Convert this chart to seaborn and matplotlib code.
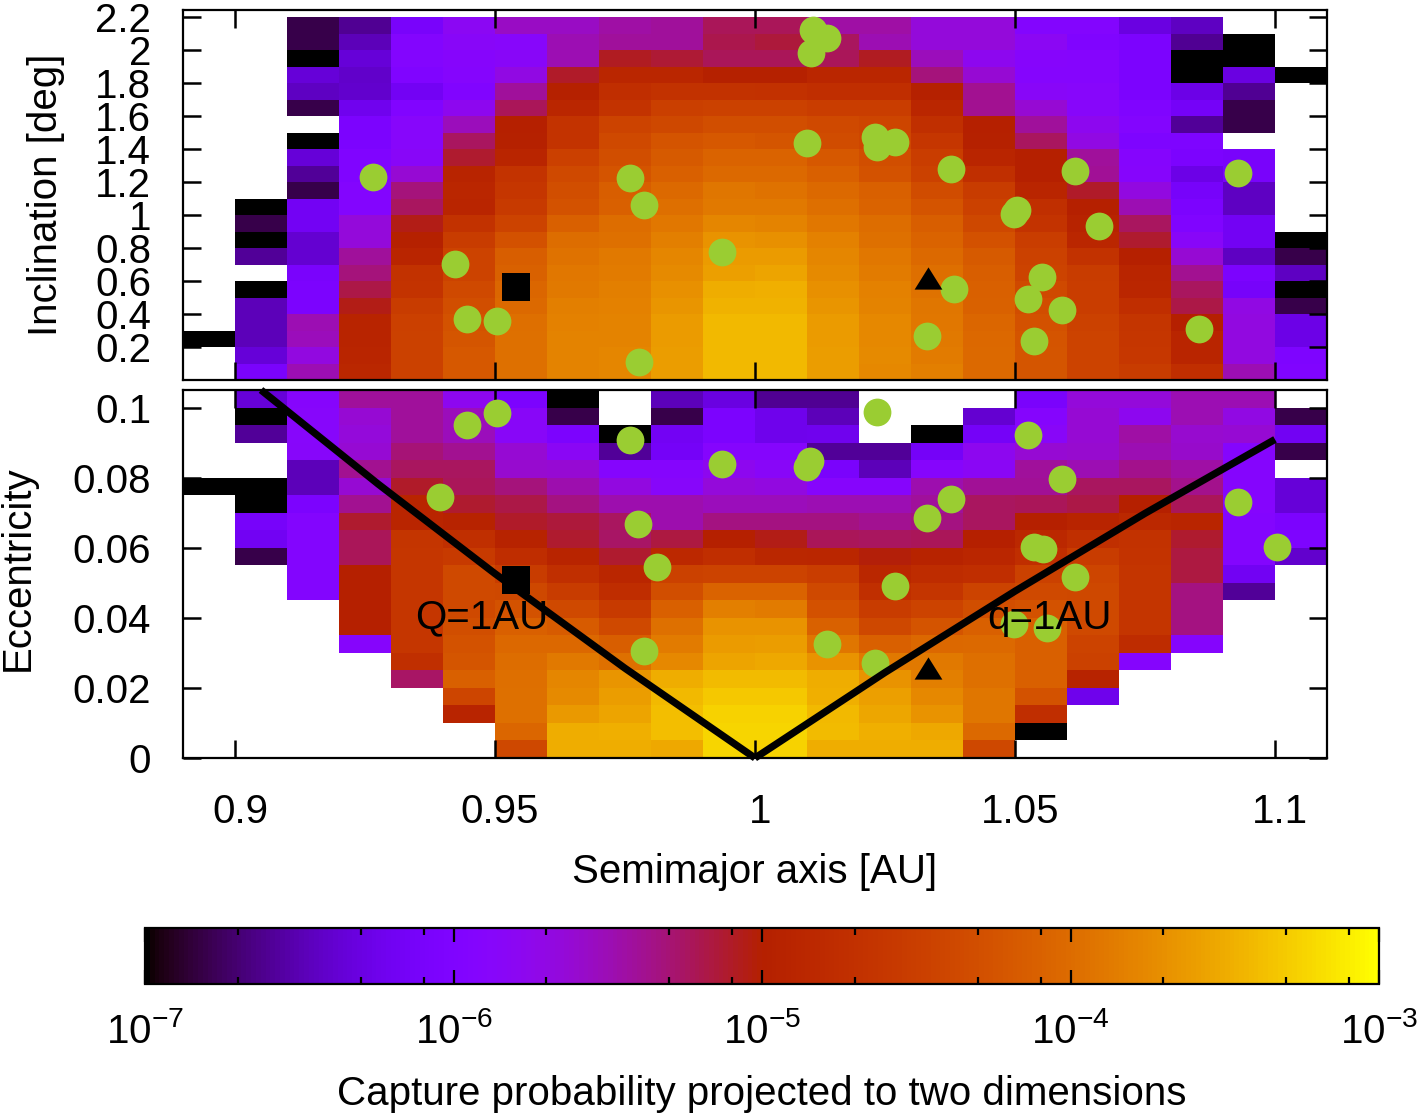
import numpy as np
import pandas as pd
import matplotlib
matplotlib.use("Agg")
import matplotlib.pyplot as plt
from matplotlib.colors import LogNorm
from matplotlib.ticker import LogLocator
from matplotlib.transforms import ScaledTranslation
import seaborn as sns

sns.set_style("white")
plt.rcParams["font.family"] = ["Liberation Sans", "DejaVu Sans"]
plt.rcParams["mathtext.fontset"] = "custom"
plt.rcParams["mathtext.rm"] = "Liberation Sans"
plt.rcParams["mathtext.default"] = "regular"
plt.rcParams["axes.unicode_minus"] = False
plt.rcParams["axes.axisbelow"] = False
plt.rcParams["text.color"] = "black"
plt.rcParams["axes.labelcolor"] = "black"
plt.rcParams["xtick.labelcolor"] = "black"
plt.rcParams["ytick.labelcolor"] = "black"

n = np.nan

# log10 of the capture probability, one row per bin, highest bin first
# columns are the semimajor axis bins 0.89-0.90 ... 1.10-1.11
inc_rows = [
    [n, n, -6.8, -6.6, -6.1, -5.8, -5.55, -5.55, -5.45, -5.42, -5.22, -5.22, -5.45, -5.45, -5.65, -5.65, -5.95, -5.95, -6.3, -6.45, n, n],
    [n, n, -6.8, -6.48, -5.95, -5.85, -5.88, -5.5, -5.42, -5.42, -5.2, -5.15, -5.25, -5.5, -5.65, -5.65, -5.8, -6.0, -6.05, -6.6, -7, n],
    [n, n, -7, -6.35, -5.95, -5.9, -5.85, -5.5, -5.08, -5.14, -5.22, -5.22, -5.22, -5.08, -5.52, -5.78, -5.9, -5.92, -6.05, -7, -7, n],
    [n, n, -6.35, -6.42, -6.0, -5.92, -5.7, -5.1, -4.88, -4.88, -4.98, -4.98, -4.88, -4.88, -5.32, -5.62, -5.92, -5.92, -6.05, -7, -6.3, -7],
    [n, n, -6.45, -6.4, -6.18, -5.98, -5.42, -4.98, -4.75, -4.68, -4.68, -4.7, -4.75, -4.75, -4.98, -5.38, -5.85, -5.88, -6.05, -6.28, -6.6, n],
    [n, n, -6.8, -6.22, -5.98, -5.78, -5.22, -4.88, -4.66, -4.5, -4.46, -4.46, -4.52, -4.52, -4.88, -5.38, -5.62, -5.86, -6.0, -6.15, -6.8, n],
    [n, n, n, -6.05, -5.88, -5.52, -5.0, -4.66, -4.44, -4.38, -4.3, -4.3, -4.36, -4.42, -4.72, -5.0, -5.42, -5.78, -5.95, -6.58, -6.8, n],
    [n, n, -7, -6.05, -5.88, -5.25, -4.98, -4.66, -4.36, -4.25, -4.2, -4.22, -4.34, -4.4, -4.62, -4.98, -5.25, -5.7, -6.02, -6.02, n, n],
    [n, n, -6.35, -6.0, -5.85, -5.12, -4.9, -4.48, -4.3, -4.18, -4.08, -4.08, -4.2, -4.3, -4.52, -4.9, -5.0, -5.42, -5.92, -6.05, -6.1, n],
    [n, n, -6.58, -6.0, -5.62, -4.92, -4.66, -4.36, -4.25, -4.12, -4.02, -4.02, -4.12, -4.26, -4.46, -4.72, -5.0, -5.4, -5.9, -6.28, -6.1, n],
    [n, n, -6.8, -5.95, -5.32, -4.88, -4.62, -4.3, -4.14, -4.02, -3.92, -3.95, -4.02, -4.12, -4.34, -4.54, -4.9, -5.1, -5.68, -6.12, -6.45, n],
    [n, -7, -6.18, -5.95, -5.24, -4.9, -4.55, -4.26, -4.12, -3.98, -3.88, -3.88, -3.98, -4.08, -4.24, -4.46, -4.72, -5.0, -5.5, -6.05, -6.45, n],
    [n, -6.8, -6.18, -5.65, -5.05, -4.68, -4.45, -4.12, -4.0, -3.9, -3.78, -3.8, -3.9, -4.0, -4.14, -4.38, -4.66, -4.95, -5.25, -6.0, -6.18, n],
    [n, -7, -6.38, -5.65, -4.98, -4.54, -4.28, -4.0, -3.96, -3.84, -3.68, -3.7, -3.82, -3.96, -4.08, -4.28, -4.52, -4.88, -5.12, -5.85, -6.18, -7],
    [n, -6.58, -6.38, -5.42, -4.9, -4.44, -4.14, -3.94, -3.88, -3.78, -3.62, -3.62, -3.78, -3.9, -4.02, -4.18, -4.46, -4.68, -5.0, -5.62, -6.45, -6.8],
    [n, n, -6.08, -5.32, -4.68, -4.44, -4.1, -3.9, -3.86, -3.74, -3.58, -3.56, -3.74, -3.86, -3.98, -4.14, -4.44, -4.54, -4.9, -5.38, -6.05, -6.45],
    [n, -7, -6.05, -5.18, -4.66, -4.36, -4.05, -3.88, -3.84, -3.7, -3.5, -3.48, -3.7, -3.82, -3.94, -4.12, -4.36, -4.52, -4.88, -5.25, -6.12, -7],
    [n, -6.48, -6.05, -5.05, -4.54, -4.3, -4.02, -3.84, -3.82, -3.66, -3.46, -3.46, -3.66, -3.8, -3.92, -4.1, -4.32, -4.52, -4.74, -5.18, -5.7, -6.8],
    [n, -6.48, -5.5, -4.92, -4.48, -4.26, -3.98, -3.82, -3.8, -3.62, -3.42, -3.42, -3.62, -3.76, -3.9, -4.06, -4.28, -4.46, -4.64, -5.0, -5.68, -6.28],
    [-7, -6.48, -5.52, -4.92, -4.46, -4.22, -3.96, -3.8, -3.8, -3.62, -3.42, -3.42, -3.62, -3.76, -3.88, -4.04, -4.24, -4.44, -4.62, -4.9, -5.68, -6.28],
    [n, -6.35, -5.68, -4.9, -4.46, -4.2, -3.96, -3.8, -3.78, -3.6, -3.42, -3.42, -3.6, -3.74, -3.86, -4.02, -4.22, -4.44, -4.6, -4.9, -5.68, -6.02],
    [n, -6.08, -5.5, -4.86, -4.46, -4.2, -3.96, -3.8, -3.78, -3.6, -3.42, -3.42, -3.6, -3.76, -3.84, -4.02, -4.22, -4.44, -4.54, -4.74, -5.5, -6.0],
]

ecc_rows = [
    [n, -6.35, -5.9, -5.42, -5.42, -5.78, -6.05, -7, n, -6.48, -6.3, -6.6, -6.6, n, n, n, -6.08, -5.65, -5.65, -5.5, -5.5, n],
    [n, -7, -5.88, -5.62, -5.42, -5.52, -5.85, -6.8, n, -6.8, -6.05, -6.25, -6.48, n, n, -6.38, -5.92, -5.62, -5.78, -5.5, -5.7, -6.8],
    [n, -6.58, -5.88, -5.65, -5.42, -5.52, -5.85, -6.05, -7, -6.18, -6.05, -6.25, -6.22, n, -7, -6.15, -5.85, -5.62, -5.45, -5.6, -5.62, -6.2],
    [n, n, -5.86, -5.62, -5.3, -5.38, -5.62, -5.82, -6.58, -6.15, -5.92, -5.92, -6.58, -6.58, -6.15, -5.78, -5.62, -5.6, -5.5, -5.58, -5.92, -6.8],
    [n, n, -6.48, -5.38, -5.25, -5.25, -5.6, -5.62, -5.92, -5.92, -5.78, -5.85, -6.08, -6.48, -5.9, -5.82, -5.42, -5.5, -5.36, -5.45, -5.92, n],
    [-7, -7, -6.48, -5.62, -5.1, -5.22, -5.32, -5.48, -5.68, -5.86, -5.65, -5.68, -5.9, -5.9, -5.48, -5.4, -5.4, -5.25, -5.24, -5.36, -5.92, -6.35],
    [n, -7, -6.05, -5.38, -4.9, -5.12, -5.18, -5.34, -5.48, -5.48, -5.52, -5.52, -5.5, -5.5, -5.42, -5.25, -5.22, -5.18, -5.0, -5.22, -5.92, -6.35],
    [n, -6.12, -5.95, -5.12, -4.9, -4.94, -5.1, -5.15, -5.25, -5.48, -5.34, -5.34, -5.34, -5.38, -5.34, -5.24, -5.0, -4.92, -4.85, -4.9, -5.95, -6.05],
    [n, -6.2, -5.95, -5.22, -4.64, -4.72, -4.95, -5.12, -5.26, -5.16, -5.0, -5.06, -5.22, -5.24, -5.22, -5.0, -4.85, -4.72, -4.68, -5.12, -5.95, -6.02],
    [n, -6.8, -5.95, -5.22, -4.62, -4.56, -4.76, -4.92, -5.12, -4.84, -4.74, -4.86, -4.88, -5.02, -4.94, -4.88, -4.74, -4.54, -4.66, -5.16, -5.95, -6.4],
    [n, n, -5.95, -5.0, -4.62, -4.36, -4.54, -4.72, -4.88, -4.46, -4.44, -4.44, -4.52, -4.86, -4.78, -4.74, -4.46, -4.42, -4.64, -5.16, -6.2, n],
    [n, n, -5.95, -5.0, -4.62, -4.36, -4.38, -4.54, -4.76, -4.3, -4.08, -4.08, -4.36, -4.72, -4.64, -4.44, -4.36, -4.38, -4.64, -5.34, -6.58, n],
    [n, n, n, -5.0, -4.62, -4.36, -4.26, -4.36, -4.56, -4.12, -3.84, -3.86, -4.28, -4.54, -4.44, -4.3, -4.26, -4.36, -4.64, -5.34, n, n],
    [n, n, n, -5.0, -4.62, -4.3, -4.12, -4.16, -4.36, -3.96, -3.68, -3.68, -4.1, -4.38, -4.24, -4.12, -4.12, -4.36, -4.64, -5.34, n, n],
    [n, n, n, -5.9, -4.62, -4.26, -4.04, -4.04, -4.14, -3.86, -3.62, -3.6, -3.92, -4.12, -4.04, -4.02, -4.12, -4.44, -4.78, -5.92, n, n],
    [n, n, n, n, -4.72, -4.22, -4.0, -3.88, -3.96, -3.76, -3.56, -3.52, -3.68, -3.88, -3.88, -3.98, -4.12, -4.46, -5.92, n, n, n],
    [n, n, n, n, -5.26, -4.12, -3.98, -3.78, -3.66, -3.5, -3.4, -3.4, -3.5, -3.68, -3.84, -3.96, -4.12, -4.95, n, n, n, n],
    [n, n, n, n, n, -4.42, -3.96, -3.74, -3.6, -3.42, -3.32, -3.32, -3.48, -3.58, -3.76, -3.92, -4.26, -6.25, n, n, n, n],
    [n, n, n, n, n, -4.92, -3.96, -3.64, -3.56, -3.38, -3.26, -3.26, -3.42, -3.54, -3.68, -3.92, -4.74, n, n, n, n, n],
    [n, n, n, n, n, n, -4.06, -3.5, -3.48, -3.38, -3.24, -3.24, -3.4, -3.48, -3.52, -4.02, -7, n, n, n, n, n],
    [n, n, n, n, n, n, -4.38, -3.5, -3.5, -3.52, -3.24, -3.26, -3.5, -3.5, -3.5, -4.38, n, n, n, n, n, n],
]

# asteroids in the inclination panel
top_a = [0.9265, 0.9424, 0.9446, 0.9504, 0.9760, 0.9786, 0.9776, 0.9937, 1.0112, 1.0138,
         1.0108, 1.0100, 1.0231, 1.0235, 1.0269, 1.0377, 1.0616, 1.0929, 1.0503, 1.0498,
         1.0662, 1.0551, 1.0525, 1.0590, 1.0382, 1.0331, 1.0537, 1.0853]
top_inc = [1.231, 0.702, 0.369, 0.357, 1.223, 1.061, 0.111, 0.775, 2.121, 2.077,
           1.986, 1.441, 1.477, 1.411, 1.447, 1.278, 1.266, 1.259, 1.031, 1.005,
           0.932, 0.624, 0.490, 0.424, 0.551, 0.266, 0.236, 0.309]

# asteroids in the eccentricity panel
bot_a = [0.9446, 0.9504, 0.9760, 0.9937, 0.9394, 0.9775, 0.9812, 0.9786, 1.0235, 1.0525,
         1.0106, 1.0100, 1.0590, 1.0377, 1.0331, 1.0929, 1.1004, 1.0537, 1.0554, 1.0616,
         1.0269, 1.0138, 1.0499, 1.0562, 1.0231]
bot_e = [0.0951, 0.0983, 0.0906, 0.0840, 0.0746, 0.0669, 0.0546, 0.0306, 0.0986, 0.0923,
         0.0846, 0.0831, 0.0797, 0.0740, 0.0686, 0.0731, 0.0603, 0.0603, 0.0597, 0.0517,
         0.0491, 0.0326, 0.0383, 0.0371, 0.0271]

# the two special objects
square_a, square_inc, square_e = 0.9540, 0.565, 0.0509
triangle_a, triangle_inc, triangle_e = 1.0333, 0.617, 0.0257

# Q=1AU and q=1AU lines
Q_a = [0.905, 0.9275, 0.95, 0.975, 1.0]
Q_e = [0.105, 0.0782, 0.0526, 0.0256, 0.0]
q_a = [1.0, 1.025, 1.05, 1.075, 1.1]
q_e = [0.0, 0.0244, 0.0476, 0.0698, 0.0909]

a_ticks = [0.9, 0.95, 1.0, 1.05, 1.1]
a_labels = ["0.9", "0.95", "1", "1.05", "1.1"]
inc_ticks = [0.2, 0.4, 0.6, 0.8, 1.0, 1.2, 1.4, 1.6, 1.8, 2.0, 2.2]
inc_labels = ["0.2", "0.4", "0.6", "0.8", "1", "1.2", "1.4", "1.6", "1.8", "2", "2.2"]
ecc_ticks = [0.0, 0.02, 0.04, 0.06, 0.08, 0.1]
ecc_labels = ["0", "0.02", "0.04", "0.06", "0.08", "0.1"]

A_MIN, A_STEP = 0.89, 0.01
INC_STEP, ECC_STEP = 0.1, 0.005
FONT = 29
W, H = 1417, 1118
TRIANGLE = [(-1, -0.8), (1, -0.8), (0, 0.8)]


def ax_rect(left, top, right, bottom):
    return [left / W, 1 - bottom / H, (right - left) / W, (bottom - top) / H]


# heatmaps live in cell coordinates, so overlays are moved into them
def a_pos(a):
    return (np.asarray(a, dtype=float) - A_MIN) / A_STEP


def inc_pos(inc):
    return len(inc_rows) - np.asarray(inc, dtype=float) / INC_STEP


def ecc_pos(e):
    return len(ecc_rows) - np.asarray(e, dtype=float) / ECC_STEP


inc_df = pd.DataFrame(inc_rows)
ecc_df = pd.DataFrame(ecc_rows)
norm = LogNorm(vmin=1e-7, vmax=1e-3)

fig = plt.figure(figsize=(W / 100, H / 100), dpi=100)
ax_top = fig.add_axes(ax_rect(183, 10, 1327, 380))
ax_bot = fig.add_axes(ax_rect(183, 390, 1327, 758))
cax = fig.add_axes(ax_rect(145, 928, 1379, 984))

sns.heatmap(10.0 ** inc_df, ax=ax_top, cmap="gnuplot", norm=norm, xticklabels=False,
            yticklabels=False, cbar_ax=cax, cbar_kws={"orientation": "horizontal"})
sns.heatmap(10.0 ** ecc_df, ax=ax_bot, cmap="gnuplot", norm=norm, xticklabels=False,
            yticklabels=False, cbar=False)

ax_top.set_ylim(len(inc_rows), len(inc_rows) - 2.245 / INC_STEP)
ax_bot.set_ylim(len(ecc_rows), len(ecc_rows) - 0.105 / ECC_STEP)

# green asteroids and the two black markers
sns.scatterplot(x=a_pos(top_a), y=inc_pos(top_inc), ax=ax_top, color="#9acd32", s=400,
                linewidth=0, zorder=3, clip_on=False)
sns.scatterplot(x=a_pos(bot_a), y=ecc_pos(bot_e), ax=ax_bot, color="#9acd32", s=400,
                linewidth=0, zorder=3, clip_on=False)
ax_top.scatter(a_pos(square_a), inc_pos(square_inc), marker="s", s=400, color="black", linewidth=0, zorder=4)
ax_bot.scatter(a_pos(square_a), ecc_pos(square_e), marker="s", s=400, color="black", linewidth=0, zorder=5)
ax_top.scatter(a_pos(triangle_a), inc_pos(triangle_inc), marker=TRIANGLE, s=400, color="black", linewidth=0, zorder=4)
ax_bot.scatter(a_pos(triangle_a), ecc_pos(triangle_e), marker=TRIANGLE, s=400, color="black", linewidth=0, zorder=5)

ax_bot.plot(a_pos(Q_a), ecc_pos(Q_e), color="black", lw=5.2, clip_on=False, zorder=4, solid_capstyle="butt")
ax_bot.plot(a_pos(q_a), ecc_pos(q_e), color="black", lw=5.2, clip_on=False, zorder=4, solid_capstyle="butt")
ax_bot.text(a_pos(0.9475), ecc_pos(0.04), "Q=1AU", fontsize=FONT, color="black", ha="center", va="center", zorder=6)
ax_bot.text(a_pos(1.0567), ecc_pos(0.04), "q=1AU", fontsize=FONT, color="black", ha="center", va="center", zorder=6)

for ax in (ax_top, ax_bot):
    for spine in ax.spines.values():
        spine.set_visible(True)
        spine.set_linewidth(1.6)
        spine.set_color("black")
    ax.set_xticks(a_pos(a_ticks))
    ax.tick_params(axis="both", which="major", direction="in", length=13, width=1.8,
                   top=True, bottom=True, left=True, right=True, labelsize=FONT,
                   pad=10, color="black")

ax_top.set_yticks(inc_pos(inc_ticks))
ax_top.set_yticklabels(inc_labels, rotation=0)
ax_top.set_xticklabels([])
ax_top.tick_params(axis="y", pad=23)
ax_top.set_xlabel("")
# scatterplot hides axis labels when the tick labels were off at that point
ax_top.set_ylabel("Inclination [deg]", fontsize=FONT, va="center", visible=True)
ax_top.yaxis.set_label_coords((46 - 183) / 1144, 0.5)

ax_bot.set_yticks(ecc_pos(ecc_ticks))
ax_bot.set_yticklabels(ecc_labels, rotation=0)
ax_bot.set_xticklabels(a_labels)
ax_bot.tick_params(axis="x", pad=25)
ax_bot.tick_params(axis="y", pad=23)
ax_bot.set_xlabel("Semimajor axis [AU]", fontsize=FONT, va="center", visible=True)
ax_bot.xaxis.set_label_coords(0.5, (758 - 872) / 368)
ax_bot.set_ylabel("Eccentricity", fontsize=FONT, va="center", visible=True)
ax_bot.yaxis.set_label_coords((18 - 183) / 1144, 0.515)

# the x labels sit a little right of their ticks in the original
nudge = ScaledTranslation(5 / 100, 0, fig.dpi_scale_trans)
for label in ax_bot.get_xticklabels():
    label.set_transform(label.get_transform() + nudge)

cbar = ax_top.collections[0].colorbar
cbar.outline.set_linewidth(1.6)
cbar.outline.set_edgecolor("black")
cax.set_axisbelow(False)
cax.xaxis.set_major_locator(LogLocator(base=10, numticks=10))
cax.xaxis.set_minor_locator(LogLocator(base=10, subs=(2, 5, 8), numticks=10))
cax.tick_params(axis="x", which="major", direction="in", length=10, width=1.6, top=True,
                bottom=True, labelsize=FONT, pad=20, color="black")
cax.tick_params(axis="x", which="minor", direction="in", length=5, width=1.6, top=True,
                bottom=True, labelbottom=False, color="black")
cax.set_xlabel("Capture probability projected to two dimensions", fontsize=FONT, va="center")
cax.xaxis.set_label_coords((762 - 145) / 1234, (984 - 1094) / 56)

fig.savefig("out.png", dpi=100)
